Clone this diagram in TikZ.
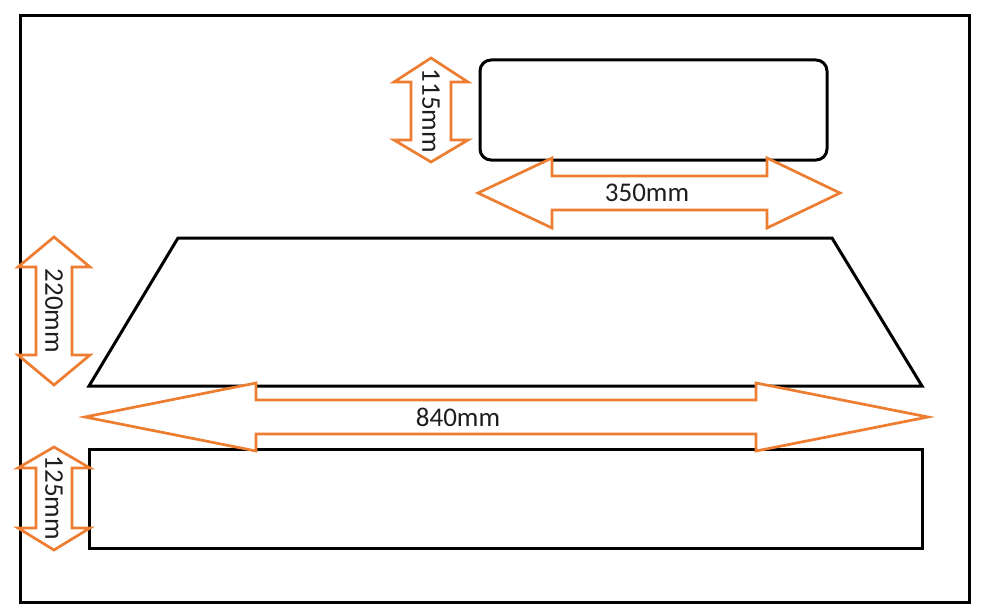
\documentclass[tikz,border=0pt]{standalone}
\usepackage{fontspec}
\setmainfont{Carlito}
\definecolor{dimorange}{RGB}{237,125,49}
\definecolor{labelgray}{RGB}{30,30,30}
\newcommand\myHArrow[7]{% xl xr yc xbl xbr headhalf shafthalf
  \draw[dimline] (#1,#3) -- (#4,#3-#6) -- (#4,#3-#7) -- (#5,#3-#7) -- (#5,#3-#6) -- (#2,#3) -- (#5,#3+#6) -- (#5,#3+#7) -- (#4,#3+#7) -- (#4,#3+#6) -- cycle;}
\newcommand\myVArrow[7]{% yt yb xc ybt ybb headhalf shafthalf
  \draw[dimline] (#3,#1) -- (#3+#6,#4) -- (#3+#7,#4) -- (#3+#7,#5) -- (#3+#6,#5) -- (#3,#2) -- (#3-#6,#5) -- (#3-#7,#5) -- (#3-#7,#4) -- (#3-#6,#4) -- cycle;}
\tikzset{
  shapeline/.style={draw=black, line width=3pt, line join=miter},
  dimline/.style={draw=dimorange, line width=2.7pt, fill=white, line join=miter},
  dimlabel/.style={font=\fontsize{27}{30}\selectfont, inner sep=0pt, text=labelgray}
}
\begin{document}
\begin{tikzpicture}[x=1pt,y=-1pt]
\useasboundingbox (0,0) rectangle (982,615);
\fill[white] (0,0) rectangle (982,615);
% outer frame
\draw[shapeline] (20,16) rectangle (969,602);
% shapes
\draw[shapeline, rounded corners=11pt] (480,60) rectangle (827,160);
\draw[shapeline] (178,238) -- (832,238) -- (922,386) -- (89,386) -- cycle;
\draw[shapeline] (89,449) rectangle (922,548);
% dimension arrows
\myVArrow{58}{162}{431}{82}{140}{37}{20}
\node[dimlabel, rotate=-90] (l115) at (431,111) {115mm};
\myHArrow{478}{840}{193}{552}{767}{35}{17}
\node[dimlabel] (l350) at (647,193) {350mm};
\myVArrow{237}{385}{54}{267}{355}{36}{18}
\node[dimlabel, rotate=-90] (l220) at (54,311) {220mm};
\myHArrow{85}{928}{417}{256}{756}{34}{17}
\node[dimlabel] (l840) at (458,417) {840mm};
\myVArrow{447}{550}{54}{468}{528}{36}{18}
\node[dimlabel, rotate=-90] (l125) at (54,498) {125mm};
\end{tikzpicture}
\end{document}
